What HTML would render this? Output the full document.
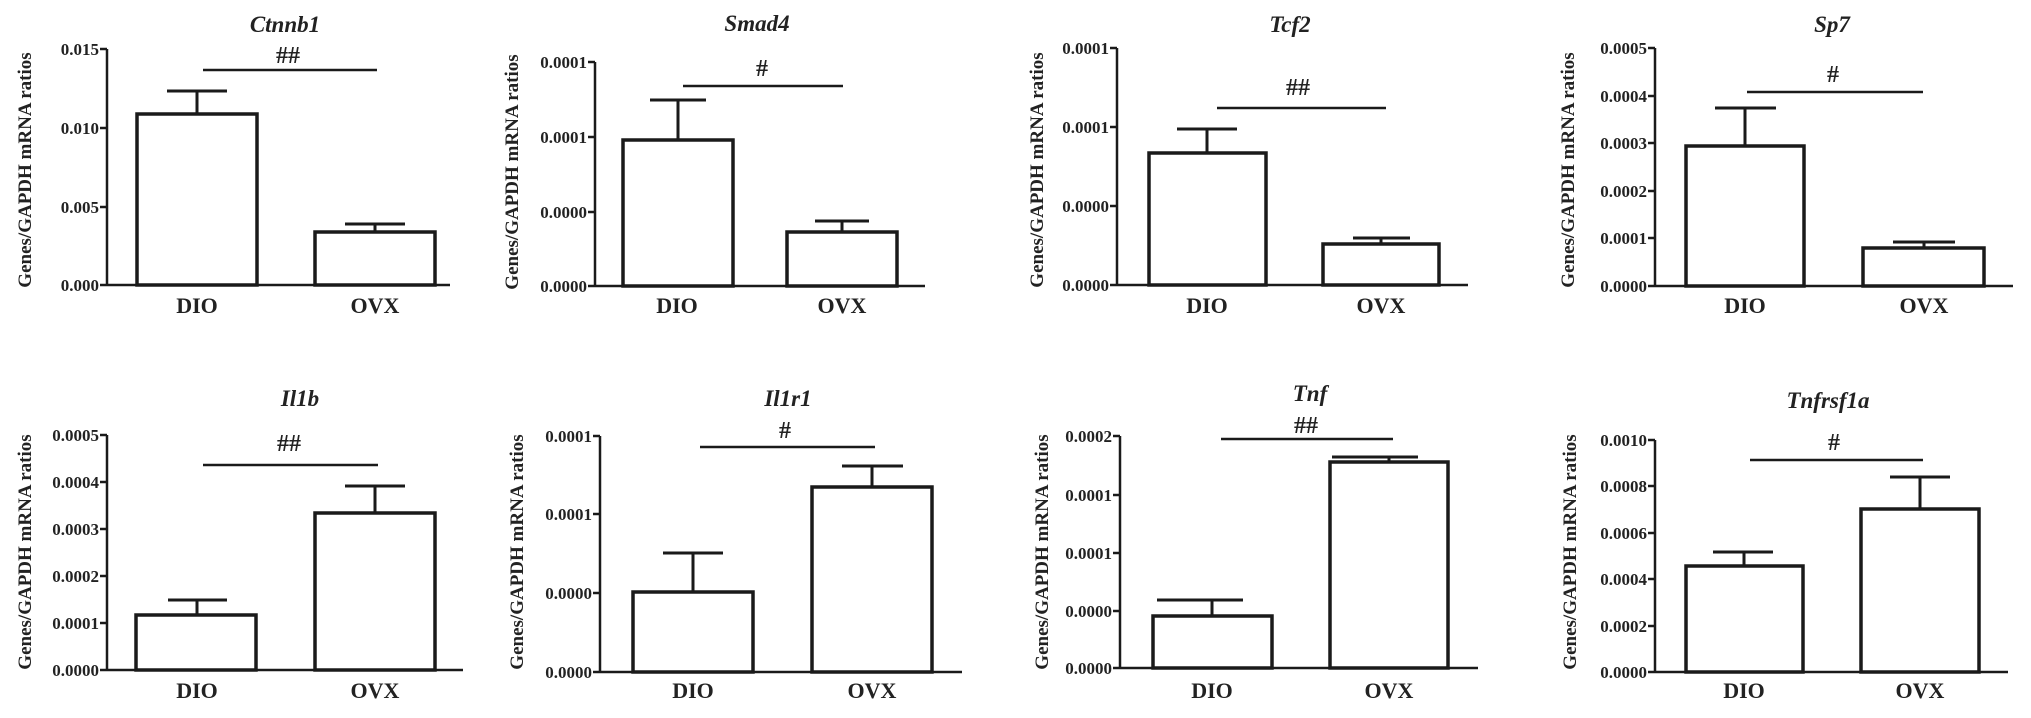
<!DOCTYPE html>
<html><head><meta charset="utf-8"><style>
html,body{margin:0;padding:0;background:#fff;width:2031px;height:718px;overflow:hidden}
svg{display:block}
text{font-family:"Liberation Serif",serif;font-weight:bold;fill:#222}
.t{font-size:17px;text-anchor:end}
.yl{font-size:19px;text-anchor:middle}
.xl{font-size:22px;text-anchor:middle}
.ti{font-size:23px;font-style:italic;text-anchor:middle}
.h{font-size:24px;text-anchor:middle}
line,rect,polyline{stroke:#1a1a1a;fill:none}
.ax{stroke-width:2.5}
.b{stroke-width:3.5;fill:#fff}
.e{stroke-width:3}
.s{stroke-width:2.5}
</style></head><body>
<svg width="2031" height="718" viewBox="0 0 2031 718" xmlns="http://www.w3.org/2000/svg">

<!-- Ctnnb1 -->
<g>
<text class="yl" transform="translate(31,170) rotate(-90)">Genes/GAPDH mRNA ratios</text>
<line class="ax" x1="107" y1="49" x2="107" y2="286"/>
<line class="ax" x1="100" y1="285" x2="450" y2="285"/>
<line class="ax" x1="100" y1="49" x2="107" y2="49"/><line class="ax" x1="100" y1="128" x2="107" y2="128"/><line class="ax" x1="100" y1="207" x2="107" y2="207"/>
<text class="t" x="99" y="55">0.015</text><text class="t" x="99" y="134">0.010</text><text class="t" x="99" y="213">0.005</text><text class="t" x="99" y="291">0.000</text>
<line class="e" x1="197" y1="91" x2="197" y2="114"/><line class="e" x1="167" y1="91" x2="227" y2="91"/>
<rect class="b" x="137" y="114" width="120" height="171"/>
<line class="e" x1="375" y1="224" x2="375" y2="232"/><line class="e" x1="345" y1="224" x2="405" y2="224"/>
<rect class="b" x="315" y="232" width="120" height="53"/>
<line class="s" x1="203" y1="70" x2="377" y2="70"/>
<text class="h" x="288" y="63">##</text>
<text class="ti" x="285" y="32">Ctnnb1</text>
<text class="xl" x="197" y="313">DIO</text><text class="xl" x="375" y="313">OVX</text>
</g>

<!-- Smad4 -->
<g>
<text class="yl" transform="translate(518,172) rotate(-90)">Genes/GAPDH mRNA ratios</text>
<line class="ax" x1="595" y1="62" x2="595" y2="287"/>
<line class="ax" x1="588" y1="286" x2="925" y2="286"/>
<line class="ax" x1="588" y1="62" x2="595" y2="62"/><line class="ax" x1="588" y1="137" x2="595" y2="137"/><line class="ax" x1="588" y1="212" x2="595" y2="212"/>
<text class="t" x="587" y="68">0.0001</text><text class="t" x="587" y="143">0.0001</text><text class="t" x="587" y="218">0.0000</text><text class="t" x="587" y="292">0.0000</text>
<line class="e" x1="678" y1="100" x2="678" y2="140"/><line class="e" x1="650" y1="100" x2="706" y2="100"/>
<rect class="b" x="623" y="140" width="110" height="146"/>
<line class="e" x1="842" y1="221" x2="842" y2="232"/><line class="e" x1="815" y1="221" x2="869" y2="221"/>
<rect class="b" x="787" y="232" width="110" height="54"/>
<line class="s" x1="683" y1="86" x2="843" y2="86"/>
<text class="h" x="762" y="76">#</text>
<text class="ti" x="757" y="31">Smad4</text>
<text class="xl" x="677" y="313">DIO</text><text class="xl" x="842" y="313">OVX</text>
</g>

<!-- Tcf2 -->
<g>
<text class="yl" transform="translate(1043,170) rotate(-90)">Genes/GAPDH mRNA ratios</text>
<line class="ax" x1="1117" y1="48" x2="1117" y2="286"/>
<line class="ax" x1="1110" y1="285" x2="1468" y2="285"/>
<line class="ax" x1="1110" y1="48" x2="1117" y2="48"/><line class="ax" x1="1110" y1="127" x2="1117" y2="127"/><line class="ax" x1="1110" y1="206" x2="1117" y2="206"/>
<text class="t" x="1109" y="54">0.0001</text><text class="t" x="1109" y="133">0.0001</text><text class="t" x="1109" y="212">0.0000</text><text class="t" x="1109" y="291">0.0000</text>
<line class="e" x1="1207" y1="129" x2="1207" y2="153"/><line class="e" x1="1177" y1="129" x2="1237" y2="129"/>
<rect class="b" x="1149" y="153" width="117" height="132"/>
<line class="e" x1="1381" y1="238" x2="1381" y2="244"/><line class="e" x1="1353" y1="238" x2="1410" y2="238"/>
<rect class="b" x="1323" y="244" width="116" height="41"/>
<line class="s" x1="1217" y1="108" x2="1386" y2="108"/>
<text class="h" x="1298" y="95">##</text>
<text class="ti" x="1290" y="32">Tcf2</text>
<text class="xl" x="1207" y="313">DIO</text><text class="xl" x="1381" y="313">OVX</text>
</g>

<!-- Sp7 -->
<g>
<text class="yl" transform="translate(1574,170) rotate(-90)">Genes/GAPDH mRNA ratios</text>
<line class="ax" x1="1655" y1="48" x2="1655" y2="287"/>
<line class="ax" x1="1648" y1="286" x2="2013" y2="286"/>
<line class="ax" x1="1648" y1="48" x2="1655" y2="48"/><line class="ax" x1="1648" y1="96" x2="1655" y2="96"/><line class="ax" x1="1648" y1="143" x2="1655" y2="143"/><line class="ax" x1="1648" y1="191" x2="1655" y2="191"/><line class="ax" x1="1648" y1="238" x2="1655" y2="238"/>
<text class="t" x="1647" y="54">0.0005</text><text class="t" x="1647" y="102">0.0004</text><text class="t" x="1647" y="149">0.0003</text><text class="t" x="1647" y="197">0.0002</text><text class="t" x="1647" y="244">0.0001</text><text class="t" x="1647" y="292">0.0000</text>
<line class="e" x1="1745" y1="108" x2="1745" y2="146"/><line class="e" x1="1715" y1="108" x2="1776" y2="108"/>
<rect class="b" x="1686" y="146" width="118" height="140"/>
<line class="e" x1="1924" y1="242" x2="1924" y2="248"/><line class="e" x1="1893" y1="242" x2="1955" y2="242"/>
<rect class="b" x="1863" y="248" width="121" height="38"/>
<line class="s" x1="1747" y1="92" x2="1923" y2="92"/>
<text class="h" x="1833" y="82">#</text>
<text class="ti" x="1832" y="32">Sp7</text>
<text class="xl" x="1745" y="313">DIO</text><text class="xl" x="1924" y="313">OVX</text>
</g>

<!-- Il1b -->
<g>
<text class="yl" transform="translate(31,552) rotate(-90)">Genes/GAPDH mRNA ratios</text>
<line class="ax" x1="107" y1="435" x2="107" y2="671"/>
<line class="ax" x1="100" y1="670" x2="463" y2="670"/>
<line class="ax" x1="100" y1="435" x2="107" y2="435"/><line class="ax" x1="100" y1="482" x2="107" y2="482"/><line class="ax" x1="100" y1="529" x2="107" y2="529"/><line class="ax" x1="100" y1="576" x2="107" y2="576"/><line class="ax" x1="100" y1="623" x2="107" y2="623"/>
<text class="t" x="99" y="441">0.0005</text><text class="t" x="99" y="488">0.0004</text><text class="t" x="99" y="535">0.0003</text><text class="t" x="99" y="582">0.0002</text><text class="t" x="99" y="629">0.0001</text><text class="t" x="99" y="676">0.0000</text>
<line class="e" x1="197" y1="600" x2="197" y2="615"/><line class="e" x1="168" y1="600" x2="227" y2="600"/>
<rect class="b" x="136" y="615" width="120" height="55"/>
<line class="e" x1="375" y1="486" x2="375" y2="513"/><line class="e" x1="345" y1="486" x2="405" y2="486"/>
<rect class="b" x="315" y="513" width="120" height="157"/>
<line class="s" x1="203" y1="465" x2="378" y2="465"/>
<text class="h" x="289" y="451">##</text>
<text class="ti" x="300" y="406">Il1b</text>
<text class="xl" x="197" y="698">DIO</text><text class="xl" x="375" y="698">OVX</text>
</g>

<!-- Il1r1 -->
<g>
<text class="yl" transform="translate(523,552) rotate(-90)">Genes/GAPDH mRNA ratios</text>
<line class="ax" x1="600" y1="436" x2="600" y2="673"/>
<line class="ax" x1="593" y1="672" x2="962" y2="672"/>
<line class="ax" x1="593" y1="436" x2="600" y2="436"/><line class="ax" x1="593" y1="514" x2="600" y2="514"/><line class="ax" x1="593" y1="593" x2="600" y2="593"/>
<text class="t" x="592" y="442">0.0001</text><text class="t" x="592" y="520">0.0001</text><text class="t" x="592" y="599">0.0000</text><text class="t" x="592" y="678">0.0000</text>
<line class="e" x1="693" y1="553" x2="693" y2="592"/><line class="e" x1="663" y1="553" x2="723" y2="553"/>
<rect class="b" x="633" y="592" width="120" height="80"/>
<line class="e" x1="872" y1="466" x2="872" y2="487"/><line class="e" x1="842" y1="466" x2="903" y2="466"/>
<rect class="b" x="812" y="487" width="120" height="185"/>
<line class="s" x1="700" y1="447" x2="875" y2="447"/>
<text class="h" x="785" y="438">#</text>
<text class="ti" x="788" y="406">Il1r1</text>
<text class="xl" x="693" y="698">DIO</text><text class="xl" x="872" y="698">OVX</text>
</g>

<!-- Tnf -->
<g>
<text class="yl" transform="translate(1048,552) rotate(-90)">Genes/GAPDH mRNA ratios</text>
<line class="ax" x1="1120" y1="436" x2="1120" y2="669"/>
<line class="ax" x1="1113" y1="668" x2="1478" y2="668"/>
<line class="ax" x1="1113" y1="436" x2="1120" y2="436"/><line class="ax" x1="1113" y1="495" x2="1120" y2="495"/><line class="ax" x1="1113" y1="553" x2="1120" y2="553"/><line class="ax" x1="1113" y1="611" x2="1120" y2="611"/>
<text class="t" x="1112" y="442">0.0002</text><text class="t" x="1112" y="501">0.0001</text><text class="t" x="1112" y="559">0.0001</text><text class="t" x="1112" y="617">0.0000</text><text class="t" x="1112" y="674">0.0000</text>
<line class="e" x1="1212" y1="600" x2="1212" y2="616"/><line class="e" x1="1157" y1="600" x2="1243" y2="600"/>
<rect class="b" x="1153" y="616" width="119" height="52"/>
<line class="e" x1="1389" y1="457" x2="1389" y2="462"/><line class="e" x1="1332" y1="457" x2="1418" y2="457"/>
<rect class="b" x="1330" y="462" width="118" height="206"/>
<line class="s" x1="1221" y1="439" x2="1393" y2="439"/>
<text class="h" x="1306" y="433">##</text>
<text class="ti" x="1310" y="401">Tnf</text>
<text class="xl" x="1212" y="698">DIO</text><text class="xl" x="1389" y="698">OVX</text>
</g>

<!-- Tnfrsf1a -->
<g>
<text class="yl" transform="translate(1576,552) rotate(-90)">Genes/GAPDH mRNA ratios</text>
<line class="ax" x1="1655" y1="440" x2="1655" y2="673"/>
<line class="ax" x1="1648" y1="672" x2="2008" y2="672"/>
<line class="ax" x1="1648" y1="440" x2="1655" y2="440"/><line class="ax" x1="1648" y1="486" x2="1655" y2="486"/><line class="ax" x1="1648" y1="533" x2="1655" y2="533"/><line class="ax" x1="1648" y1="579" x2="1655" y2="579"/><line class="ax" x1="1648" y1="626" x2="1655" y2="626"/>
<text class="t" x="1647" y="446">0.0010</text><text class="t" x="1647" y="492">0.0008</text><text class="t" x="1647" y="539">0.0006</text><text class="t" x="1647" y="585">0.0004</text><text class="t" x="1647" y="632">0.0002</text><text class="t" x="1647" y="678">0.0000</text>
<line class="e" x1="1744" y1="552" x2="1744" y2="566"/><line class="e" x1="1713" y1="552" x2="1773" y2="552"/>
<rect class="b" x="1686" y="566" width="117" height="106"/>
<line class="e" x1="1920" y1="477" x2="1920" y2="509"/><line class="e" x1="1890" y1="477" x2="1950" y2="477"/>
<rect class="b" x="1861" y="509" width="118" height="163"/>
<line class="s" x1="1750" y1="460" x2="1923" y2="460"/>
<text class="h" x="1834" y="450">#</text>
<text class="ti" x="1828" y="408">Tnfrsf1a</text>
<text class="xl" x="1744" y="698">DIO</text><text class="xl" x="1920" y="698">OVX</text>
</g>
</svg>
</body></html>
